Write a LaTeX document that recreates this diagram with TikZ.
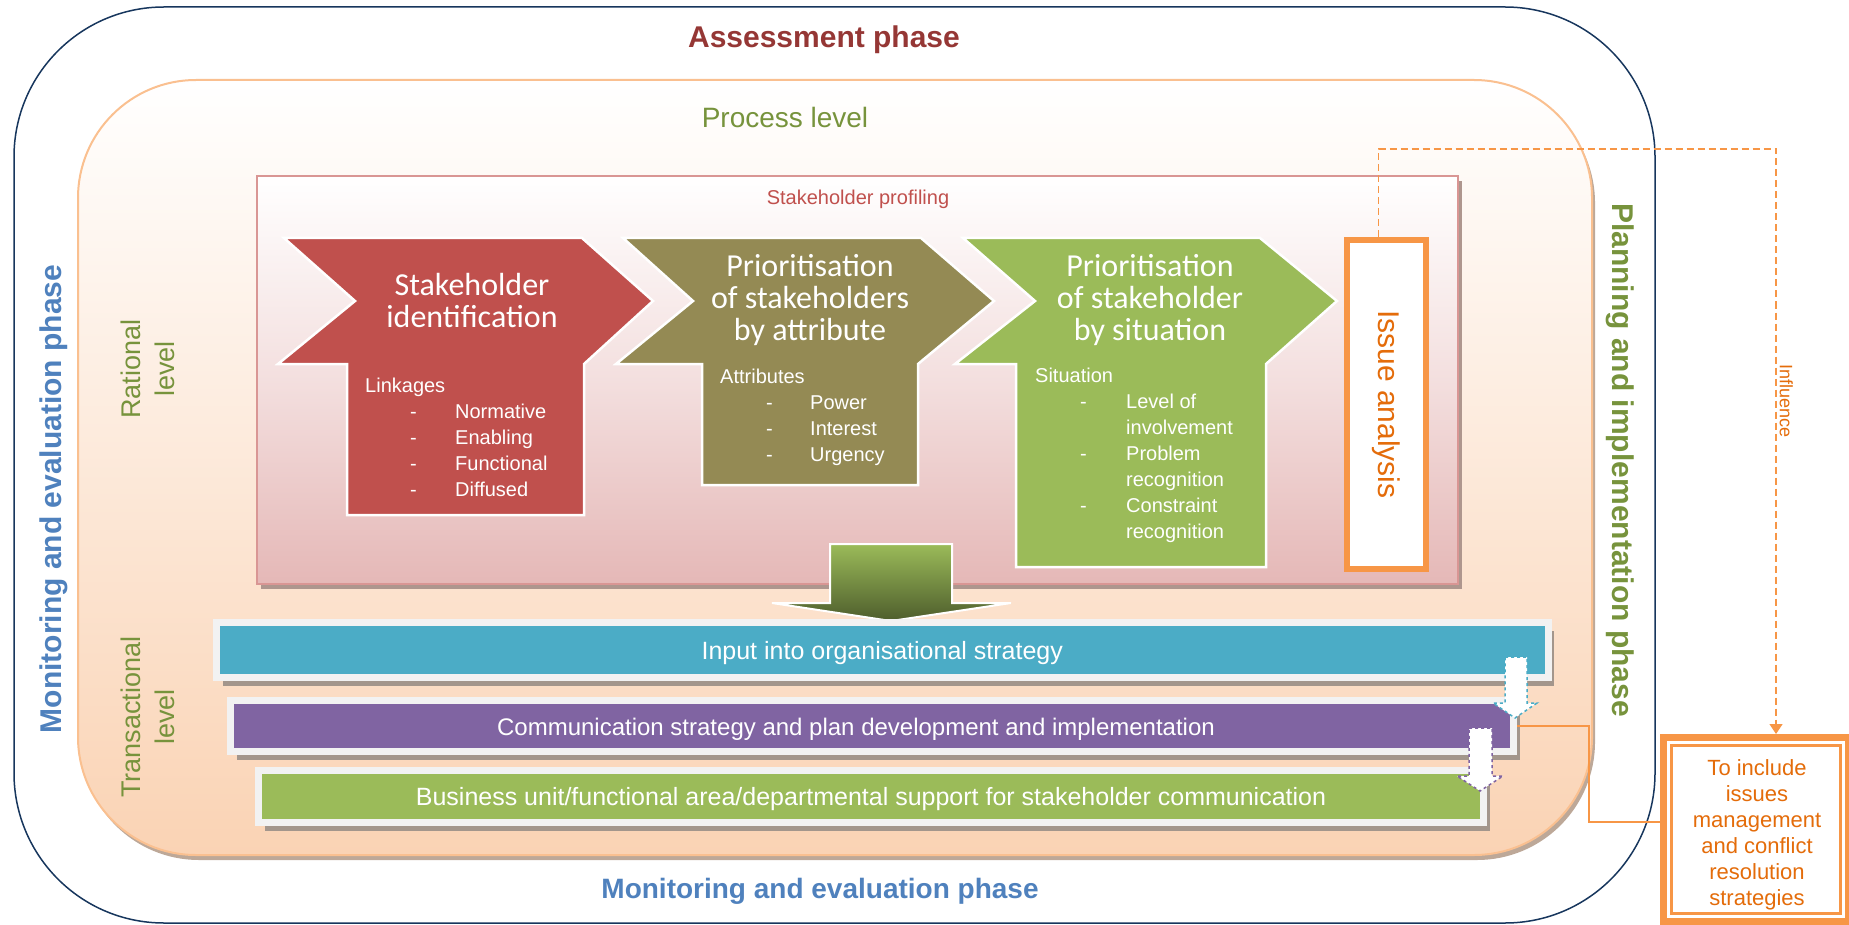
\documentclass[tikz,border=0pt]{standalone}
\usepackage{fontspec}
\setmainfont{Liberation Sans}
\newfontfamily\calfont{Carlito}
\usepackage{graphicx}
\usepackage{tikz}
\usetikzlibrary{arrows.meta,shadows}

\definecolor{navy}{HTML}{17365D}
\definecolor{peachline}{HTML}{FAC090}
\definecolor{peachfill}{HTML}{FAD3B4}
\definecolor{pinkline}{HTML}{D99694}
\definecolor{pinkfill}{HTML}{E5B8B7}
\definecolor{redstep}{HTML}{C0504D}
\definecolor{olivestep}{HTML}{948A54}
\definecolor{greenstep}{HTML}{9BBB59}
\definecolor{bluebar}{HTML}{4BACC6}
\definecolor{purplebar}{HTML}{8064A2}
\definecolor{orangeline}{HTML}{F79646}
\definecolor{orangetext}{HTML}{E46C0A}
\definecolor{greentext}{HTML}{77933C}
\definecolor{bluetext}{HTML}{4F81BD}
\definecolor{darkred}{HTML}{953735}
\definecolor{framegray}{HTML}{F2F2F2}
\definecolor{shadowgray}{HTML}{A3968C}

\newcommand{\setfs}[2]{\fontsize{#1}{#2}\selectfont}

\begin{document}
\begin{tikzpicture}
[ x=1pt, y=-1pt,
  phase/.style={font=\bfseries\setfs{#1}{36},inner sep=0pt},
  leveltext/.style={text=greentext,font=\setfs{27}{34},align=center,inner sep=0pt},
  chevron/.style={draw=white,line width=2.5pt},
  steptitle/.style={text=white,font=\calfont\setfs{32}{32},align=center,inner sep=0pt},
  steplist/.style={text=white,font=\setfs{20}{26},inner sep=0pt,anchor=base west},
  bar/.style={draw=framegray,line width=7pt,text=white,font=\setfs{25}{30},inner sep=0pt,
    text height=18pt,text depth=0pt,
    drop shadow={shadow xshift=6pt,shadow yshift=-8pt,fill=shadowgray,opacity=1}},
  smallarrow/.style={fill=white,dashed,line width=1.5pt},
  influence/.style={draw=orangeline,line width=1.2pt,dash pattern=on 7pt off 4pt},
  link/.style={draw=orangeline,line width=1.2pt}]

\useasboundingbox (0,0) rectangle (1849,925);
\clip (0,0) rectangle (1849,925);

% phases and levels
\node[draw=navy,line width=1.5pt,rounded corners=150pt,minimum width=1641pt,minimum height=916pt] (evalframe) at (834.5,465) {};
\node[draw=peachline,line width=2pt,rounded corners=118pt,top color=white,bottom color=peachfill,
  minimum width=1514pt,minimum height=775pt,
  drop shadow={shadow xshift=3pt,shadow yshift=-5pt,fill=shadowgray!70!peachfill,opacity=1}] (processframe) at (835,467.5) {};

\node[phase=30,text=darkred,anchor=base] (assess) at (824,48) {Assessment phase};
\node[text=greentext,font=\setfs{28}{34},inner sep=0pt,anchor=base] (process) at (785,128) {Process level};
\node[phase=28,text=bluetext,anchor=base] (evalbottom) at (820,898) {Monitoring and evaluation phase};
\node[phase=30,text=bluetext,rotate=90] (evalleft) at (54,499) {Monitoring and evaluation phase};
\node[phase=30,text=greentext,rotate=-90] (planning) at (1620,460) {Planning and implementation phase};
\node[leveltext,rotate=90] (rational) at (148,369) {Rational\\level};
\node[leveltext,rotate=90] (transactional) at (148,717) {Transactional\\level};

% stakeholder profiling
\node[draw=pinkline,line width=2.5pt,top color=white,bottom color=pinkfill,middle color=pinkfill!45!white,
  minimum width=1201pt,minimum height=408pt,
  drop shadow={shadow xshift=4pt,shadow yshift=-5pt,fill=shadowgray!80!pinkline,opacity=1}] (profiling) at (857.5,380) {};
\node[text=redstep,font=\setfs{20}{24},inner sep=0pt,anchor=base] (proflabel) at (858,205) {Stakeholder profiling};

\filldraw[chevron,fill=redstep] (284,238) -- (582,238) -- (653,301) -- (584,364) -- (584,515) -- (347,515) -- (347,364) -- (278,364) -- (355,301) -- cycle;
\filldraw[chevron,fill=olivestep] (623,238) -- (921,238) -- (994,301) -- (918,364) -- (918,485) -- (702,485) -- (702,364) -- (616,364) -- (693,301) -- cycle;
\filldraw[chevron,fill=greenstep] (963,238) -- (1260,238) -- (1337,301) -- (1266,364) -- (1266,567) -- (1016,567) -- (1016,364) -- (955,364) -- (1035,301) -- cycle;

\node[steptitle] (identtitle) at (472,301) {Stakeholder\\identification};
\node[steptitle] (attrtitle) at (810,300) {Prioritisation\\of stakeholders\\by attribute};
\node[steptitle] (situtitle) at (1150,300) {Prioritisation\\of stakeholder\\by situation};

\node[steplist] (linkages) at (365,392) {\begin{tabular}[t]{@{}p{45pt}@{}p{45pt}@{}l@{}}
  \multicolumn{3}{@{}l@{}}{Linkages}\\
  & - & Normative\\ & - & Enabling\\ & - & Functional\\ & - & Diffused
  \end{tabular}};
\node[steplist] (attributes) at (720,383) {\begin{tabular}[t]{@{}p{46pt}@{}p{44pt}@{}l@{}}
  \multicolumn{3}{@{}l@{}}{Attributes}\\
  & - & Power\\ & - & Interest\\ & - & Urgency
  \end{tabular}};
\node[steplist] (situation) at (1035,382) {\begin{tabular}[t]{@{}p{45pt}@{}p{46pt}@{}l@{}}
  \multicolumn{3}{@{}l@{}}{Situation}\\
  & - & Level of\\ & & involvement\\ & - & Problem\\ & & recognition\\ & - & Constraint\\ & & recognition
  \end{tabular}};

\node[draw=orangeline,line width=6pt,fill=white,minimum width=79pt,minimum height=329pt,inner sep=0pt,
  text=orangetext,font=\setfs{30}{36}] (issue) at (1386.5,404.5) {\rotatebox{-90}{Issue analysis}};

% flow into the transactional level
\path[draw=white,line width=2pt,top color=greenstep,bottom color=greenstep!50!black]
  (830,544) -- (952,544) -- (952,603) -- (1011,603) -- (891,621) -- (772,603) -- (830,603) -- cycle;

\node[bar,fill=bluebar,minimum width=1331.5pt,minimum height=55pt] (strategy) at (882.25,650) {Input into organisational strategy};
\node[bar,fill=purplebar,font=\setfs{24}{30},minimum width=1283pt,minimum height=51pt] (commplan) at (872,726) {\hspace*{-32pt}Communication strategy and plan development and implementation};
\node[bar,fill=greenstep,minimum width=1225pt,minimum height=52pt] (support) at (871,796.5) {Business unit/functional area/departmental support for stakeholder communication};

\filldraw[smallarrow,draw=bluebar] (1505,657) -- (1527,657) -- (1527,703) -- (1537,703) -- (1515,718) -- (1493,703) -- (1505,703) -- cycle;
\filldraw[smallarrow,draw=purplebar] (1469,728) -- (1492,728) -- (1492,776) -- (1503,776) -- (1480,791) -- (1457,776) -- (1469,776) -- cycle;

% issues management box
\node[draw=orangeline,line width=7pt,fill=white,minimum width=185pt,minimum height=184pt] (strategybox) at (1756,829.5) {};
\draw[orangeline,line width=2.5pt] ([shift={(11.5,11.5)}]strategybox.north west) rectangle ([shift={(-11.5,-11.5)}]strategybox.south east);
\node[align=center,text=orangetext,font=\setfs{22}{26},inner sep=0pt] (strategytext) at (1757,835)
  {To include\\issues\\management\\and conflict\\resolution\\strategies};

\draw[influence,-{Triangle[width=13pt,length=10pt]}] ([xshift=-8pt]issue.north) |- (1776,149)
  -- node[pos=0.43,anchor=south,rotate=-90,inner sep=3pt,text=orangetext,font=\setfs{18}{20}] (influence) {Influence}
  (1776,0 |- strategybox.north);
\draw[link] (commplan.east) -- ++(72,0) |- ([yshift=7.5pt]strategybox.west);
\end{tikzpicture}
\end{document}
